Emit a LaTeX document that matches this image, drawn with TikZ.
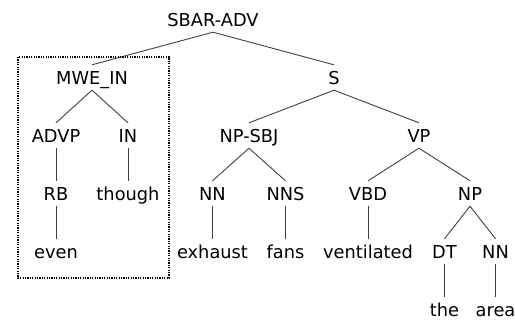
\documentclass[tikz,border=0pt]{standalone}
\usepackage{fontspec}
\setmainfont{DejaVu Sans}
\usepackage{tikz}

\begin{document}
\begin{tikzpicture}
[x=1pt, y=1pt, level distance=58pt, grow=down,
parent anchor=south, child anchor=north,
every node/.style={font=\fontsize{17.8}{20}\selectfont, text height=13pt, text depth=0pt, inner ysep=6pt},
edge from parent/.style={draw=black!75, line width=0.9pt},
mwebox/.style={draw, line width=1.4pt, dash pattern=on 1.2pt off 1.2pt}]
\useasboundingbox (0,0) rectangle (515,-322);
\node (sbaradv) at (213,-19.5) {SBAR-ADV} [sibling distance=242pt]
  child{node (mwein) {MWE\_IN} [sibling distance=72pt]
        child{node (advp) {ADVP}
              child{node (rb) {RB}
                    child{node (even) {even}}}}
        child{node (in) {IN}
              child{node (though) {though}}}
}
  child{node (s) {S} [sibling distance=170pt]
        child{node (npsbj) {NP-SBJ} [sibling distance=73pt]
              child{node (nn) {NN}
                    child{node (exhaust) {exhaust}}}
              child{node (nns) {NNS}
                    child{node (fans) {fans}}}}
        child{node (vp) {VP} [sibling distance=102pt]
              child{node (vbd) {VBD}
                    child{node (ventilated) {ventilated}}}
              child{node (np) {NP} [sibling distance=51pt]
                    child{node (dt) {DT}
                          child{node (the) {the}}}
                    child{node (nnarea) {NN}
                          child{node (area) {area}}}}}
    };
% group box round the multi-word expression
\draw[mwebox] (18,-57) rectangle (169,-278);
\end{tikzpicture}
\end{document}
